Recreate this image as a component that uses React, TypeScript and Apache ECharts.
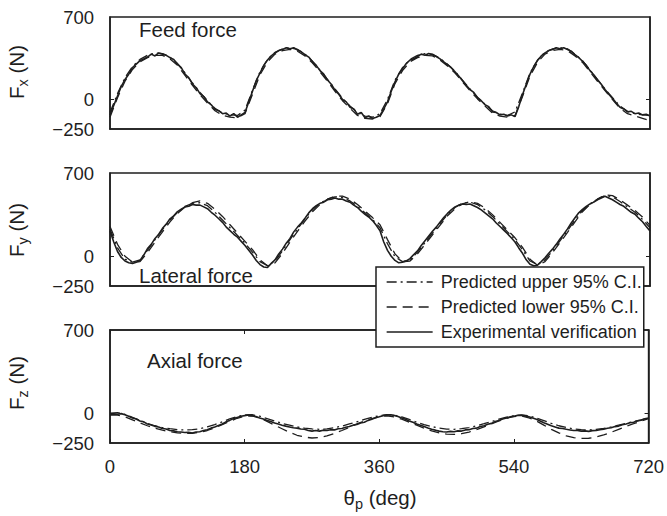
import React, { useEffect, useRef } from "react";
import * as echarts from "echarts";

const FONT = '"Liberation Sans", Arial, Helvetica, sans-serif';
const INK = "#1e1e1e";

const NAME_UP = "Predicted upper 95% C.I.";
const NAME_LOW = "Predicted lower 95% C.I.";
const NAME_EXP = "Experimental verification";

const X_MIN = 0;
const X_MAX = 720;
const X_INTERVAL = 180;
const Y_MIN = -250;
const Y_MAX = 700;
const Y_LABELS = [-250, 0, 700];
const Y_TICKS = [0];
const STEP_EXP = 5; // degrees between experimental samples
const STEP_PRED = 10; // degrees between predicted samples

// ---------- Fx : feed force ----------
const FX_EXP = [
  -131, -50, 30, 110, 170, 215, 270, 300, 330, 345,
  360, 385, 370, 395, 385, 375, 355, 340, 300, 270,
  215, 185, 130, 100, 50, 25, -20, -45, -85, -95,
  -120, -115, -140, -120, -150, -130, -110, -20, 70, 160,
  225, 290, 335, 370, 395, 415, 425, 440, 430, 440,
  420, 405, 380, 360, 320, 290, 245, 215, 165, 130,
  80, 45, 0, -20, -65, -80, -125, -110, -155, -140,
  -160, -150, -135, -80, -20, 70, 150, 215, 260, 305,
  335, 345, 365, 385, 375, 390, 380, 365, 345, 320,
  295, 270, 235, 200, 160, 120, 85, 60, 15, -10,
  -45, -60, -105, -110, -130, -125, -140, -130, -145, -60,
  40, 130, 215, 280, 330, 370, 395, 415, 425, 440,
  430, 440, 425, 410, 380, 355, 325, 290, 245, 210,
  165, 130, 85, 45, 10, -30, -65, -80, -105, -100,
  -120, -115, -130, -125, -140,
];
const FX_UP = [
  -110, 50, 185, 280, 340, 375, 395, 390, 360, 305,
  225, 140, 60, -10, -75, -115, -130, -135, -90, 80,
  235, 340, 400, 430, 440, 425, 385, 325, 250, 170,
  90, 10, -55, -110, -140, -150, -120, 0, 165, 270,
  340, 375, 390, 385, 350, 300, 240, 165, 90, 20,
  -40, -95, -125, -135, -105, 55, 225, 335, 400, 430,
  440, 430, 385, 330, 250, 170, 90, 15, -55, -100,
  -120, -130, -135,
];
const FX_LOW = [
  -150, 15, 155, 255, 320, 355, 375, 375, 345, 290,
  205, 120, 40, -30, -95, -135, -150, -155, -120, 45,
  210, 320, 385, 415, 425, 410, 370, 310, 235, 155,
  70, -10, -75, -135, -160, -165, -145, -35, 135, 245,
  320, 355, 375, 370, 335, 285, 225, 150, 75, 5,
  -55, -115, -140, -150, -135, 25, 200, 315, 385, 415,
  425, 415, 370, 315, 235, 155, 75, 0, -75, -120,
  -140, -160, -180,
];

// ---------- Fy : lateral force ----------
const FY_EXP = [
  212, 120, 40, -10, -40, -55, -60, -50, -35, 10,
  65, 100, 150, 185, 235, 270, 315, 340, 375, 395,
  415, 420, 435, 430, 430, 415, 400, 370, 345, 315,
  285, 245, 215, 185, 160, 125, 90, 50, 10, -35,
  -70, -90, -95, -60, -30, 20, 60, 110, 150, 205,
  245, 280, 320, 365, 400, 425, 445, 455, 475, 480,
  490, 480, 480, 465, 455, 430, 410, 380, 353, 330,
  300, 260, 215, 120, 50, 0, -35, -55, -50, -40,
  -20, 15, 45, 90, 130, 170, 210, 245, 285, 325,
  360, 390, 415, 430, 440, 435, 440, 425, 410, 390,
  365, 340, 315, 280, 250, 220, 190, 155, 120, 70,
  25, -30, -68, -80, -75, -45, -12, 25, 60, 100,
  145, 185, 230, 280, 324, 365, 395, 420, 440, 455,
  475, 490, 505, 490, 475, 455, 435, 420, 395, 370,
  353, 320, 290, 250, 212,
];
const FY_UP = [
  230, 70, -25, -50, -30, 50, 140, 225, 305, 370,
  420, 445, 450, 425, 370, 305, 240, 175, 110, 35,
  -45, -80, -40, 45, 140, 230, 315, 390, 445, 480,
  500, 495, 465, 420, 365, 310, 240, 105, -5, -45,
  -30, 35, 115, 195, 275, 350, 410, 445, 455, 435,
  390, 335, 270, 205, 140, 55, -40, -70, -30, 45,
  130, 215, 305, 385, 440, 480, 510, 500, 460, 415,
  370, 310, 240,
];
const FY_LOW = [
  250, 100, 0, -50, -45, 30, 120, 205, 290, 360,
  415, 450, 465, 445, 395, 335, 265, 195, 125, 55,
  -30, -80, -55, 25, 120, 210, 295, 375, 435, 480,
  505, 505, 480, 435, 380, 325, 265, 140, 20, -45,
  -40, 20, 100, 180, 260, 340, 400, 440, 460, 445,
  405, 350, 285, 220, 155, 75, -25, -75, -45, 30,
  115, 200, 290, 375, 435, 480, 515, 510, 475, 430,
  385, 330, 260,
];

// ---------- Fz : axial force ----------
const FZ_EXP = [
  -10, -5, -8, -3, -12, -25, -40, -48, -65, -72,
  -90, -98, -110, -115, -128, -132, -145, -148, -155, -158,
  -162, -160, -166, -158, -155, -145, -138, -125, -115, -102,
  -90, -72, -60, -45, -35, -25, -20, -15, -20, -28,
  -40, -48, -60, -70, -82, -90, -100, -108, -115, -122,
  -125, -132, -135, -145, -150, -145, -150, -142, -145, -138,
  -140, -130, -128, -118, -112, -100, -95, -82, -75, -60,
  -50, -38, -30, -20, -15, -12, -18, -28, -40, -50,
  -65, -76, -90, -100, -112, -124, -135, -142, -150, -155,
  -158, -152, -155, -148, -150, -140, -138, -128, -125, -112,
  -105, -92, -85, -70, -60, -48, -40, -30, -25, -18,
  -18, -22, -30, -40, -50, -65, -80, -92, -105, -115,
  -125, -128, -135, -140, -145, -145, -150, -148, -152, -146,
  -145, -138, -135, -126, -122, -112, -108, -96, -90, -80,
  -75, -64, -58, -46, -40,
];
const FZ_UP = [
  0, 5, -10, -35, -60, -85, -105, -120, -130, -138,
  -140, -138, -130, -115, -95, -72, -48, -28, -15, -12,
  -25, -45, -65, -85, -100, -115, -125, -132, -135, -132,
  -122, -108, -90, -72, -52, -35, -20, -12, -15, -30,
  -52, -75, -95, -112, -125, -133, -135, -130, -120, -105,
  -88, -70, -50, -33, -20, -14, -22, -40, -62, -85,
  -105, -120, -132, -138, -140, -136, -128, -115, -100, -85,
  -70, -55, -40,
];
const FZ_LOW = [
  -15, -15, -30, -55, -80, -105, -125, -142, -155, -165,
  -170, -168, -160, -145, -122, -95, -68, -42, -25, -22,
  -40, -68, -100, -130, -160, -185, -200, -208, -205, -190,
  -170, -145, -118, -90, -65, -45, -30, -22, -30, -50,
  -75, -100, -125, -148, -165, -175, -178, -172, -158, -138,
  -115, -90, -65, -42, -28, -22, -38, -65, -100, -135,
  -165, -190, -205, -212, -210, -200, -182, -160, -135, -110,
  -88, -65, -45,
];

const PANELS = [
  { title: "Feed force", sub: "x", exp: FX_EXP, up: FX_UP, low: FX_LOW },
  { title: "Lateral force", sub: "y", exp: FY_EXP, up: FY_UP, low: FY_LOW },
  { title: "Axial force", sub: "z", exp: FZ_EXP, up: FZ_UP, low: FZ_LOW },
];

// layout
const GRIDS = [
  { left: 110, top: 17, width: 540, height: 112 },
  { left: 110, top: 173, width: 540, height: 113 },
  { left: 110, top: 330, width: 540, height: 113 },
];
const TITLE_POS = [
  { x: 139, y: 29 },
  { x: 139, y: 275 },
  { x: 147, y: 360 },
];
const YNAME_POS = [
  { x: 18, y: 72 },
  { x: 18, y: 230 },
  { x: 18, y: 383 },
];

const fmtY = (v: number) => (v < 0 ? "\u2212" + Math.abs(v) : String(v));

export default function App() {
  const ref = useRef<HTMLDivElement>(null);

  useEffect(() => {
    document.body.style.margin = "0";
    if (!ref.current) return;
    const chart = echarts.init(ref.current, undefined, { renderer: "svg" });

    const xAxis: any[] = [];
    const yAxis: any[] = [];
    const series: any[] = [];

    PANELS.forEach((p, gi) => {
      const last = gi === PANELS.length - 1;
      xAxis.push({
        gridIndex: gi,
        type: "value",
        min: X_MIN,
        max: X_MAX,
        interval: X_INTERVAL,
        position: "bottom",
        axisLine: { show: true, onZero: false, lineStyle: { color: INK, width: 1.5 } },
        axisTick: { show: last, inside: true, length: 4, lineStyle: { color: INK, width: 1 } },
        axisLabel: {
          show: last,
          margin: 14,
          fontSize: 18.5,
          color: INK,
          fontFamily: FONT,
        },
        splitLine: { show: false },
      });
      yAxis.push({
        gridIndex: gi,
        type: "value",
        min: Y_MIN,
        max: Y_MAX,
        position: "left",
        axisLine: { show: true, onZero: false, lineStyle: { color: INK, width: 1.5 } },
        axisTick: {
          show: true,
          inside: true,
          length: 4,
          customValues: Y_TICKS,
          lineStyle: { color: INK, width: 1 },
        },
        axisLabel: {
          customValues: Y_LABELS,
          margin: 16,
          fontSize: 18.5,
          color: INK,
          fontFamily: FONT,
          formatter: fmtY,
        },
        splitLine: { show: false },
      });
      yAxis.push({
        gridIndex: gi,
        type: "value",
        min: Y_MIN,
        max: Y_MAX,
        position: "right",
        axisLine: { show: true, onZero: false, lineStyle: { color: INK, width: 1.5 } },
        axisTick: {
          show: true,
          inside: true,
          length: 4,
          customValues: Y_TICKS,
          lineStyle: { color: INK, width: 1 },
        },
        axisLabel: { show: false },
        splitLine: { show: false },
      });

      series.push({
        type: "line",
        name: NAME_UP,
        xAxisIndex: gi,
        yAxisIndex: gi * 2,
        data: p.up.map((v, i) => [i * STEP_PRED, v]),
        symbol: "none",
        showSymbol: false,
        lineStyle: { color: INK, width: 1.3, type: [10, 4, 2, 4] },
        itemStyle: { color: INK },
        z: 2,
      });
      series.push({
        type: "line",
        name: NAME_LOW,
        xAxisIndex: gi,
        yAxisIndex: gi * 2,
        data: p.low.map((v, i) => [i * STEP_PRED, v]),
        symbol: "none",
        showSymbol: false,
        lineStyle: { color: INK, width: 1.3, type: [10, 6] },
        itemStyle: { color: INK },
        z: 2,
      });
      series.push({
        type: "line",
        name: NAME_EXP,
        xAxisIndex: gi,
        yAxisIndex: gi * 2,
        data: p.exp.map((v, i) => [i * STEP_EXP, v]),
        symbol: "none",
        showSymbol: false,
        lineStyle: { color: INK, width: 1.6, type: "solid" },
        itemStyle: { color: INK },
        z: 3,
      });
    });

    // top axis of the bottom panel (inner ticks)
    xAxis.push({
      gridIndex: 2,
      type: "value",
      min: X_MIN,
      max: X_MAX,
      interval: X_INTERVAL,
      position: "top",
      axisLine: { show: true, onZero: false, lineStyle: { color: INK, width: 1.5 } },
      axisTick: { show: true, inside: true, length: 4, lineStyle: { color: INK, width: 1 } },
      axisLabel: { show: false },
      splitLine: { show: false },
    });

    const graphic: any[] = [];
    PANELS.forEach((p, gi) => {
      graphic.push({
        type: "text",
        x: TITLE_POS[gi].x,
        y: TITLE_POS[gi].y,
        z: 10,
        style: {
          text: p.title,
          fill: INK,
          fontSize: 20.5,
          fontFamily: FONT,
          align: "left",
          verticalAlign: "middle",
          textAlign: "left",
          textVerticalAlign: "middle",
        },
      });
      graphic.push({
        type: "text",
        x: YNAME_POS[gi].x,
        y: YNAME_POS[gi].y,
        rotation: Math.PI / 2,
        z: 10,
        style: {
          text: "{a|F}{b|" + p.sub + "}{a| (N)}",
          fill: INK,
          align: "center",
          verticalAlign: "middle",
          textAlign: "center",
          textVerticalAlign: "middle",
          rich: {
            a: { fontSize: 20.5, fontFamily: FONT, fill: INK, verticalAlign: "bottom", padding: [0, 0, 4, 0] },
            b: { fontSize: 14.5, fontFamily: FONT, fill: INK, verticalAlign: "bottom" },
          },
        },
      });
    });
    graphic.push({
      type: "text",
      x: 380,
      y: 499,
      z: 10,
      style: {
        text: "{a|\u03b8}{b|p}{a| (deg)}",
        fill: INK,
        align: "center",
        verticalAlign: "middle",
        textAlign: "center",
        textVerticalAlign: "middle",
        rich: {
          a: { fontSize: 20.5, fontFamily: FONT, fill: INK, verticalAlign: "bottom", padding: [0, 0, 4, 0] },
          b: { fontSize: 14.5, fontFamily: FONT, fill: INK, verticalAlign: "bottom" },
        },
      },
    });

    chart.setOption({
      animation: false,
      backgroundColor: "#ffffff",
      textStyle: { fontFamily: FONT },
      grid: GRIDS.map((g) => ({
        ...g,
        show: true,
        borderColor: INK,
        borderWidth: 1.5,
        backgroundColor: "transparent",
        containLabel: false,
      })),
      xAxis,
      yAxis,
      series,
      legend: {
        data: [NAME_UP, NAME_LOW, NAME_EXP],
        orient: "vertical",
        left: 376,
        top: 267,
        itemWidth: 46,
        itemHeight: 14,
        itemGap: 5,
        padding: [5, 2, 5, 10],
        backgroundColor: "#ffffff",
        borderColor: INK,
        borderWidth: 1.5,
        borderRadius: 0,
        selectedMode: false,
        z: 20,
        itemStyle: { opacity: 0, color: "rgba(0,0,0,0)", borderWidth: 0 },
        lineStyle: { width: 1.3 },
        textStyle: { fontSize: 18, color: INK, fontFamily: FONT, lineHeight: 20, padding: [0, 0, 0, 3] },
      },
      graphic,
    });

    return () => {
      chart.dispose();
    };
  }, []);

  return (
    <div
      ref={ref}
      style={{ position: "absolute", left: 0, top: 0, width: 667, height: 516 }}
    />
  );
}
